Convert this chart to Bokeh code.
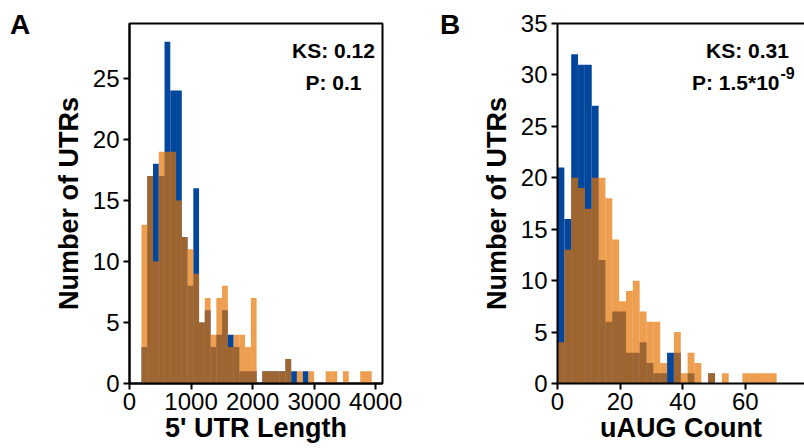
import numpy as np
from bokeh.plotting import figure
from bokeh.layouts import row
from bokeh.models import Range1d, FixedTicker, Label, LinearAxis, Div
from bokeh.embed import file_html
from bokeh.resources import INLINE

# ---------------- data ----------------
# Panel A: 5' UTR length, 40 shared bins
utr_bin_start = 195
utr_bin_end = 3935
utr_blue = [3, 17, 18, 17, 28, 24, 24, 12, 8, 16,
            5, 6, 3, 4, 6, 4, 3, 1, 1, 1,
            0, 1, 1, 1, 1, 2, 1, 0, 1, 0,
            0, 0, 0, 0, 0, 0, 0, 0, 0, 0]
utr_orange = [13, 17, 10, 19, 19, 19, 15, 12, 11, 9,
              5, 7, 4, 7, 8, 3, 4, 4, 3, 7,
              0, 1, 1, 1, 1, 2, 0, 1, 0, 1,
              0, 0, 1, 1, 0, 1, 0, 0, 1, 1]
utr_xticks = [0, 1000, 2000, 3000, 4000]
utr_yticks = [0, 5, 10, 15, 20, 25]

# Panel B: uAUG count, 32 shared bins
uaug_bin_start = 0
uaug_bin_end = 70
uaug_blue = [21, 16, 32, 31, 31, 27, 12, 6, 7, 7,
             3, 3, 4, 2, 1, 1, 3, 3, 0, 1,
             0, 0, 1, 0, 0, 0, 0, 0, 0, 0,
             0, 0]
uaug_orange = [4, 13, 20, 19, 17, 20, 20, 18, 14, 8,
               9, 10, 7, 6, 6, 2, 0, 5, 1, 3,
               2, 0, 1, 0, 1, 0, 0, 1, 1, 1,
               1, 1]
uaug_xticks = [0, 20, 40, 60, 80]
uaug_yticks = [0, 5, 10, 15, 20, 25, 30, 35]

ks_a = ["KS: 0.12", "P: 0.1"]
ks_b = ["KS: 0.31", "P: 1.5*10", "-9"]

# ---------------- style ----------------
FONT = "Liberation Sans"
BLUE = "#03479C"
ORANGE = "#E67300"
ORANGE_ALPHA = 0.69
FIG_H = 448
TOP = 23
BOTTOM = 65
FRAME_H = FIG_H - TOP - BOTTOM


def make_panel(page_left, width, left, right, xr, yr, xticks, yticks, start, end,
               blue, orange, xlabel, ylabel, box):
    p = figure(width=width, height=FIG_H, x_range=Range1d(*xr), y_range=Range1d(*yr),
               output_backend="svg", toolbar_location=None,
               min_border_left=left, min_border_right=right,
               min_border_top=TOP, min_border_bottom=BOTTOM)
    p.grid.visible = False
    p.background_fill_color = "white"
    p.border_fill_color = "white"
    edges = np.linspace(start, end, len(blue) + 1)
    p.quad(left=edges[:-1], right=edges[1:], bottom=0, top=blue,
           fill_color=BLUE, line_color=None)
    p.quad(left=edges[:-1], right=edges[1:], bottom=0, top=orange,
           fill_color=ORANGE, fill_alpha=ORANGE_ALPHA, line_color=None)

    p.xaxis.ticker = FixedTicker(ticks=xticks)
    p.yaxis.ticker = FixedTicker(ticks=yticks)
    for ax in (p.xaxis[0], p.yaxis[0]):
        ax.axis_line_color = "black"
        ax.axis_line_width = 2
        ax.major_tick_line_color = "black"
        ax.major_tick_line_width = 2
        ax.major_tick_out = 6
        ax.major_tick_in = 0
        ax.minor_tick_line_color = None
        ax.major_label_text_font = FONT
        ax.major_label_text_font_size = "24px"
        ax.major_label_text_color = "black"
        ax.axis_label_text_font = FONT
        ax.axis_label_text_font_size = "27px"
        ax.axis_label_text_font_style = "bold"
        ax.axis_label_text_color = "black"
    p.xaxis.major_label_standoff = 3
    p.yaxis.major_label_standoff = 4
    p.xaxis.axis_label = xlabel
    p.xaxis.axis_label_standoff = 0
    p.yaxis.axis_label = ylabel
    p.yaxis.axis_label_standoff = 6

    if box:
        p.outline_line_color = "black"
        p.outline_line_width = 2
        p.outline_line_alpha = 1
    else:
        p.outline_line_color = None
        top_ax = LinearAxis(ticker=FixedTicker(ticks=[]), axis_line_width=2,
                            axis_line_color="black", major_tick_line_color=None,
                            minor_tick_line_color=None,
                            major_label_text_font_size="0px")
        p.add_layout(top_ax, "above")

    frame_w = width - left - right
    dx = (xr[1] - xr[0]) / frame_w
    dy = (yr[1] - yr[0]) / FRAME_H

    def at(px, py):
        # px, py: page pixel position (from top-left of the page)
        return xr[0] + (px - page_left - left) * dx, yr[0] + (TOP + FRAME_H - py) * dy

    return p, at


def label(p, at, px, py, text, size, align="left"):
    x, y = at(px, py)
    p.add_layout(Label(x=x, y=y, text=text, text_align=align, text_baseline="alphabetic",
                       text_font=FONT, text_font_size=size, text_font_style="bold",
                       text_color="black"))


def letter(text, width, pad_left):
    return Div(text=('<div style="font-family:\'Liberation Sans\';font-size:28px;'
                     'font-weight:bold;line-height:1;color:black;'
                     'padding-top:11px;padding-left:%dpx;">%s</div>' % (pad_left, text)),
               width=width, height=FIG_H, margin=0)


# ---------------- panel A ----------------
divA = letter("A", 40, 10)
pA, atA = make_panel(40, 390, 89, 48, (0, 4110), (0, 29.5), utr_xticks, utr_yticks,
                     utr_bin_start, utr_bin_end, utr_blue, utr_orange,
                     "5' UTR Length", "Number of UTRs", True)
label(pA, atA, 333, 50, ks_a[0], "21px", "center")
label(pA, atA, 333, 82, ks_a[1], "21px", "center")

# ---------------- panel B ----------------
divB = letter("B", 45, 10)
pB, atB = make_panel(475, 329, 82, 0, (0, 78.9), (0, 35), uaug_xticks, uaug_yticks,
                     uaug_bin_start, uaug_bin_end, uaug_blue, uaug_orange,
                     "uAUG Count", "Number of UTRs", False)
label(pB, atB, 747, 50, ks_b[0], "21px", "center")
label(pB, atB, 779, 82, ks_b[1], "21px", "right")
label(pB, atB, 780, 72, ks_b[2], "16px", "left")

layout = row(divA, pA, divB, pB)
open("out.html", "w").write(file_html(layout, INLINE))
